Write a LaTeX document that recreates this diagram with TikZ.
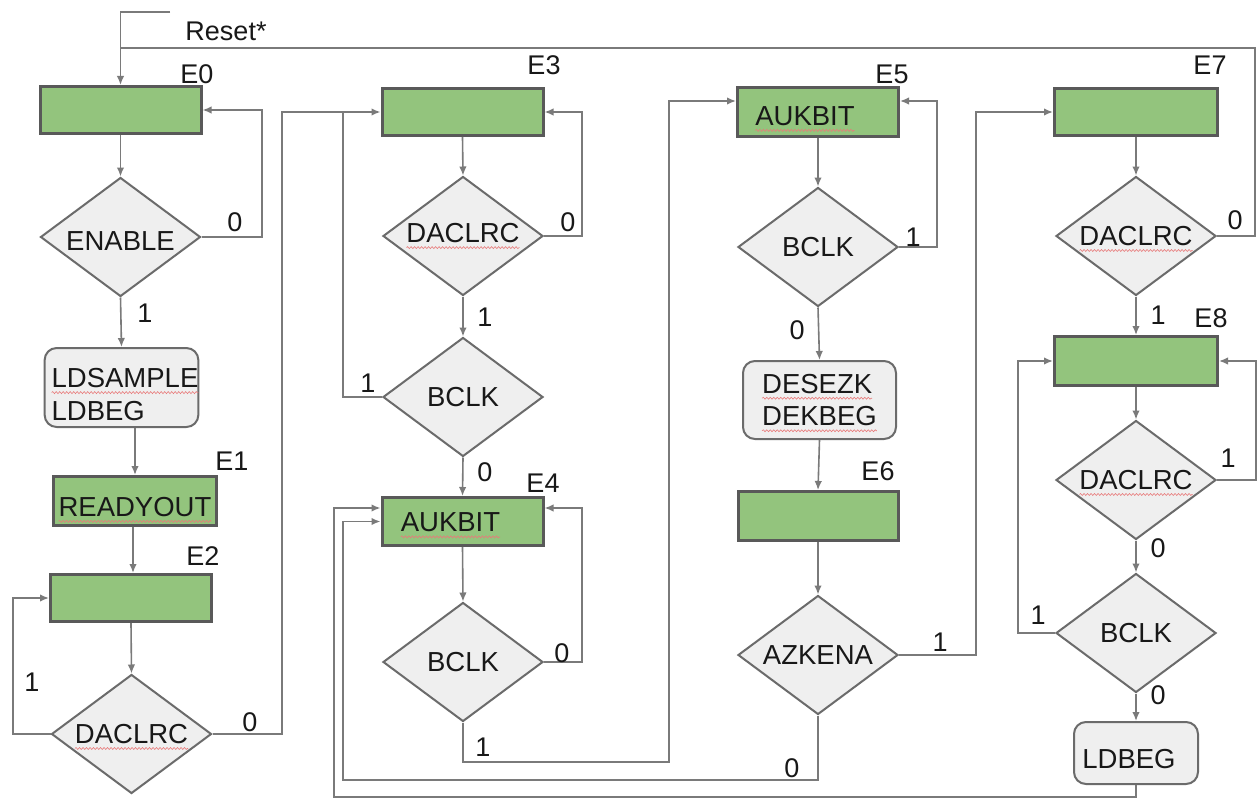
\documentclass[tikz,border=0pt]{standalone}
\usepackage{fontspec}
\setmainfont{Liberation Sans}
\usetikzlibrary{shapes.geometric,arrows.meta,decorations.pathmorphing}

\definecolor{stategreen}{HTML}{93C47D}
\definecolor{stateedge}{HTML}{595959}
\definecolor{testfill}{HTML}{EFEFEF}
\definecolor{testedge}{HTML}{6B6B6B}
\definecolor{wire}{HTML}{7A7A7A}
\definecolor{ink}{HTML}{181818}
\definecolor{wavered}{HTML}{E87A7A}

% red wavy underline used under the signal names (does not change the text box)
\newcommand\spellmark[1]{\tikz[baseline=(sw.base),x=1pt,y=1pt]{%
  \node[shape=rectangle, draw=none, fill=none, inner sep=0pt, outer sep=0pt,
        minimum width=0pt, minimum height=0pt, anchor=base] (sw) at (0,0) {#1};
  \draw[overlay, draw=wavered, line width=0.6pt, rounded corners=0pt,
        decorate, decoration={snake, amplitude=1pt, segment length=3.5pt}]
    ([yshift=-5pt]sw.base west) -- ([yshift=-5pt]sw.base east);}}

\tikzset{
  every node/.style={text=ink},
  statebox/.style={rectangle, fill=stategreen, draw=stateedge, line width=3pt,
    minimum width=161pt, minimum height=47pt, inner sep=0pt,
    font=\fontsize{27.5}{30}\selectfont},
  test/.style={diamond, fill=testfill, draw=testedge, line width=2pt,
    minimum width=160pt, minimum height=119pt, inner sep=0pt, aspect=1.35,
    font=\fontsize{27.5}{30}\selectfont},
  action/.style={rectangle, rounded corners=12pt, fill=testfill, draw=testedge,
    line width=2pt, inner sep=0pt, align=left,
    font=\fontsize{27.5}{32.5}\selectfont},
  tag/.style={inner sep=0pt, font=\fontsize{27}{30}\selectfont},
  line/.style={draw=wire, line width=1.6pt},
  arr/.style={line, -{Latex[length=9pt,width=7.5pt]}},
}

\begin{document}
\begin{tikzpicture}[x=1pt,y=-1pt]
\useasboundingbox[fill=white] (0,0) rectangle (1259,800);

% ---------- column 1 ----------
\node[statebox] (E0) at (120.5,110) {};
\node[test, text height=27pt] (en) at (120.5,237) {ENABLE};
\node[action, minimum width=153pt, minimum height=79pt] (lds) at (121.5,387.5)
  {\rule{0pt}{33pt}\hspace*{7pt}\spellmark{LDSAMPLE}\\\hspace*{7pt}LDBEG};
\node[statebox, minimum width=163pt, minimum height=49pt, text height=31pt] (E1) at (135,501) {\spellmark{READYOUT}};
\node[statebox] (E2) at (131,598) {};
\node[test] (d2) at (131.5,734) {\spellmark{DACLRC}};

% ---------- column 2 ----------
\node[statebox] (E3) at (462.5,112) {};
\node[test, text depth=6pt] (d3) at (463,236) {\spellmark{DACLRC}};
\node[test] (b3) at (463,397) {BCLK};
\node[statebox, minimum height=48pt, text height=21pt] (E4) at (462.5,521.5) {\spellmark{AUKBIT}\rule{24pt}{0pt}};
\node[test] (b4) at (463,662) {BCLK};

% ---------- column 3 ----------
\node[statebox, minimum height=48pt, text height=27pt] (E5) at (818,112) {\spellmark{AUKBIT}\rule{26pt}{0pt}};
\node[test] (b5) at (818,247) {BCLK};
\node[action, minimum width=153pt, minimum height=78pt] (dz) at (819.5,400) {\spellmark{DESEZK}\\\spellmark{DEKBEG}};
\node[statebox, minimum width=160pt, minimum height=49pt] (E6) at (818,516) {};
\node[test] (az) at (818,655) {AZKENA};

% ---------- column 4 ----------
\node[statebox, minimum width=163pt] (E7) at (1136,112) {};
\node[test] (d7) at (1136,236) {\spellmark{DACLRC}};
\node[statebox, minimum width=163pt, minimum height=49pt] (E8) at (1136,361) {};
\node[test] (d8) at (1136,480) {\spellmark{DACLRC}};
\node[test] (b8) at (1136,633) {BCLK};
\node[action, minimum width=124pt, minimum height=62pt, text height=32pt] (ldb) at (1136,753) {LDBEG\hspace{14pt}};

% ---------- state names ----------
\node[tag] (nE0) at (197,74) {E0};
\node[tag] (nE1) at (232,461) {E1};
\node[tag] (nE2) at (203,556) {E2};
\node[tag] (nE3) at (544,65) {E3};
\node[tag] (nE4) at (543,483) {E4};
\node[tag] (nE5) at (892,74) {E5};
\node[tag] (nE6) at (878,471) {E6};
\node[tag] (nE7) at (1210,65) {E7};
\node[tag] (nE8) at (1211,318) {E8};

% ---------- reset ----------
\coordinate (rs) at (170,12);
\coordinate (j0) at (120.5,48);
\node[tag] (reset) at (226,31) {Reset*};
\draw[arr] (rs) -| (E0.north);

% ---------- transitions, column 1 ----------
\draw[arr] (E0.south) -- (en.north);
\draw[arr] (en.east) -| (262,110) -- (E0.east);
\draw[arr] (en.south) -- (lds.north);
\draw[arr] (lds.south -| E1.north) -- (E1.north);
\draw[arr] (E1.south -| 133,0) -- (E2.north -| 133,0);
\draw[arr] (E2.south) -- (d2.north);
\draw[arr] (d2.west) -| (13,598) -- (E2.west);
\draw[arr] (d2.east) -| (282,112) -- (E3.west);

% ---------- transitions, column 2 ----------
\draw[arr] (E3.south) -- (d3.north);
\draw[arr] (d3.east) -| (582,112) -- (E3.east);
\draw[arr] (d3.south) -- (b3.north);
\draw[line] (b3.west) -| (343,112);
\draw[arr] (b3.south) -- (E4.north);
\draw[arr] (E4.south) -- (b4.north);
\draw[arr] (b4.east) -| (582,508) -- ([yshift=13.5pt]E4.east);
\draw[arr] (b4.south) |- (669,762) |- ([yshift=11pt]E5.west);

% ---------- transitions, column 3 ----------
\draw[arr] (E5.south) -- (b5.north);
\draw[arr] (b5.east) -| (937,101) -- ([yshift=11pt]E5.east);
\draw[arr] (b5.south) -- (dz.north);
\draw[arr] (dz.south) -- (E6.north);
\draw[arr] (E6.south) -- (az.north);
\draw[arr] (az.east) -| (976,112) -- (E7.west);
\draw[arr] (az.south) |- (343,780) |- (E4.west);
\draw[arr] (ldb.south) |- (334,797) |- ([yshift=13.5pt]E4.west);

% ---------- transitions, column 4 ----------
\draw[arr] (E7.south) -- (d7.north);
\draw[line] (d7.east) -| (1255,48) -- (j0);
\draw[arr] (d7.south) -- (E8.north);
\draw[arr] (E8.south) -- (d8.north);
\draw[arr] (d8.east) -| (1256,361) -- (E8.east);
\draw[arr] (d8.south) -- (b8.north);
\draw[arr] (b8.west) -| (1018,361) -- (E8.west);
\draw[arr] (b8.south) -- (ldb.north);

% ---------- branch values ----------
\node[tag] (v1) at (235,222) {0};
\node[tag] (v2) at (145,313) {1};
\node[tag] (v3) at (32,682) {1};
\node[tag] (v4) at (250,722) {0};
\node[tag] (v5) at (568,222) {0};
\node[tag] (v6) at (485,317) {1};
\node[tag] (v7) at (368,383) {1};
\node[tag] (v8) at (485,472) {0};
\node[tag] (v9) at (562,653) {0};
\node[tag] (v10) at (483,747) {1};
\node[tag] (v11) at (913,237) {1};
\node[tag] (v12) at (797,330) {0};
\node[tag] (v13) at (940,642) {1};
\node[tag] (v14) at (792,768) {0};
\node[tag] (v15) at (1235,220) {0};
\node[tag] (v16) at (1158,315) {1};
\node[tag] (v17) at (1228,458) {1};
\node[tag] (v18) at (1158,548) {0};
\node[tag] (v19) at (1038,615) {1};
\node[tag] (v20) at (1158,695) {0};
\end{tikzpicture}
\end{document}
